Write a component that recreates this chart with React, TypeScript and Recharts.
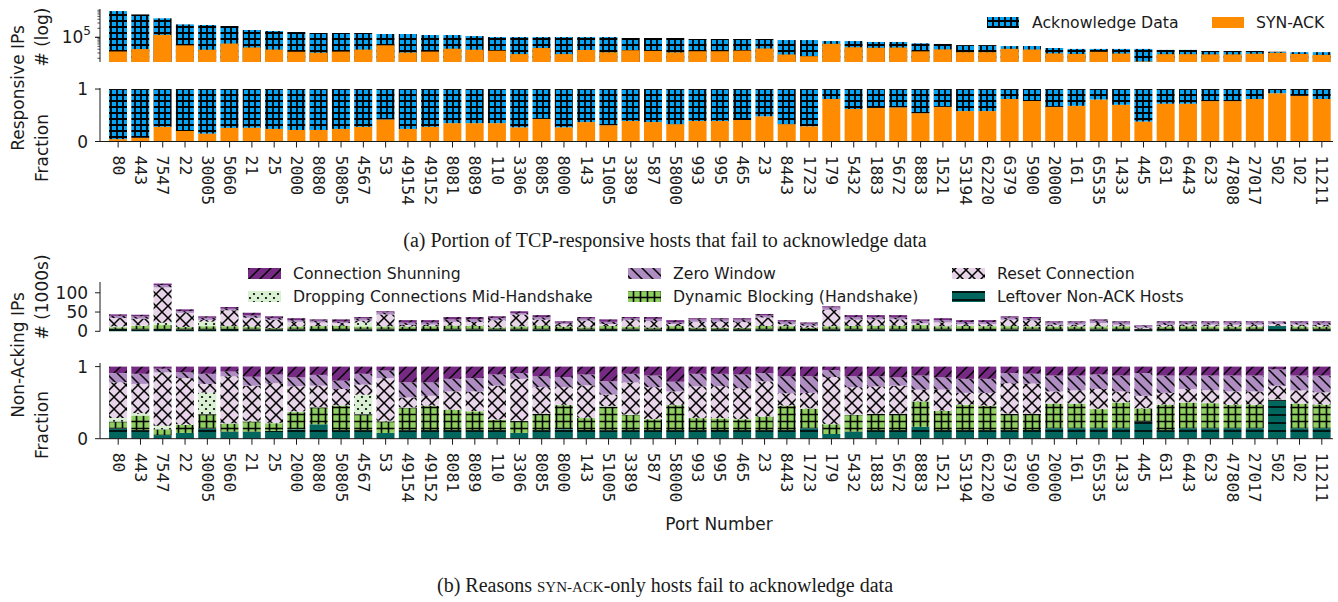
import { BarChart, Bar, XAxis, YAxis } from "recharts";

const ports = [
  "80", "443", "7547", "22", "30005", "5060", "21", "25", "2000", "8080",
  "50805", "4567", "53", "49154", "49152", "8081", "8089", "110", "3306", "8085",
  "8000", "143", "51005", "3389", "587", "58000", "993", "995", "465", "23",
  "8443", "1723", "179", "5432", "1883", "5672", "8883", "1521", "53194", "62220",
  "6379", "5900", "20000", "161", "65535", "1433", "445", "631", "6443", "623",
  "47808", "27017", "502", "102", "11211",
];

// (a) responsive hosts per port, and the SYN-ACK-only share
const responsiveTotal = [
  750000, 580000, 430000, 270000, 257000, 238000, 175000, 162000, 150000, 139000,
  139000, 139000, 129000, 129000, 119000, 119000, 110000, 102000, 102000, 102000,
  102000, 102000, 102000, 95000, 95000, 95000, 88000, 88000, 88000, 88000,
  81000, 81000, 75000, 75000, 70000, 70000, 63000, 60000, 55000, 55000,
  51000, 51000, 44000, 41000, 41000, 41000, 41000, 38000, 38000, 35000,
  35000, 35000, 33000, 32000, 32000,
];
const synAckFrac = [
  0.045, 0.07, 0.28, 0.2, 0.15, 0.26, 0.26, 0.24, 0.22, 0.22,
  0.24, 0.28, 0.42, 0.24, 0.28, 0.35, 0.35, 0.35, 0.27, 0.43,
  0.27, 0.37, 0.31, 0.39, 0.37, 0.33, 0.39, 0.39, 0.41, 0.48,
  0.33, 0.29, 0.81, 0.62, 0.64, 0.65, 0.54, 0.66, 0.58, 0.58,
  0.81, 0.77, 0.66, 0.68, 0.8, 0.7, 0.38, 0.72, 0.72, 0.77,
  0.77, 0.81, 0.92, 0.87, 0.81,
];

// (b) non-acking hosts (thousands) and reason shares
const nonAckTotal = [
  44, 43, 124, 57, 39, 63, 48, 39, 34, 31,
  31, 37, 52, 29, 29, 37, 37, 39, 52, 42,
  26, 37, 31, 37, 37, 29, 34, 34, 34, 45,
  29, 23, 65, 42, 42, 42, 31, 34, 29, 29,
  39, 37, 26, 26, 31, 26, 16, 26, 26, 26,
  26, 26, 26, 26, 26,
];
const leftover = [
  0.14, 0.12, 0.05, 0.08, 0.14, 0.1, 0.1, 0.11, 0.13, 0.2,
  0.12, 0.12, 0.08, 0.12, 0.12, 0.12, 0.12, 0.12, 0.08, 0.12,
  0.13, 0.12, 0.12, 0.12, 0.12, 0.12, 0.12, 0.12, 0.12, 0.12,
  0.12, 0.145, 0.065, 0.1, 0.12, 0.12, 0.165, 0.12, 0.12, 0.12,
  0.12, 0.12, 0.145, 0.145, 0.145, 0.145, 0.235, 0.12, 0.145, 0.145,
  0.145, 0.145, 0.525, 0.145, 0.145,
];
const dynamicBlocking = [
  0.1, 0.2, 0.08, 0.11, 0.2, 0.11, 0.14, 0.105, 0.24, 0.235,
  0.34, 0.22, 0.16, 0.31, 0.335, 0.28, 0.26, 0.14, 0.165, 0.225,
  0.335, 0.165, 0.33, 0.21, 0.15, 0.345, 0.165, 0.16, 0.15, 0.185,
  0.335, 0.27, 0.135, 0.23, 0.225, 0.225, 0.35, 0.265, 0.35, 0.335,
  0.225, 0.225, 0.34, 0.34, 0.265, 0.355, 0.185, 0.35, 0.355, 0.35,
  0.325, 0.325, 0.015, 0.34, 0.325,
];
const dropping = [
  0.05, 0.035, 0.05, 0.01, 0.3, 0.005, 0.01, 0.005, 0.01, 0.005,
  0.005, 0.27, 0.01, 0.005, 0.005, 0.005, 0.005, 0.005, 0.005, 0.005,
  0.005, 0.005, 0.005, 0.005, 0.005, 0.005, 0.005, 0.005, 0.005, 0.005,
  0.005, 0.005, 0.005, 0.005, 0.005, 0.005, 0.005, 0.005, 0.005, 0.005,
  0.005, 0.005, 0.005, 0.005, 0.005, 0.005, 0.005, 0.005, 0.005, 0.005,
  0.005, 0.005, 0.005, 0.005, 0.005,
];
const resetConn = [
  0.5, 0.405, 0.74, 0.64, 0.12, 0.655, 0.485, 0.55, 0.35, 0.295,
  0.225, 0.14, 0.59, 0.14, 0.135, 0.25, 0.27, 0.47, 0.58, 0.365,
  0.245, 0.445, 0.16, 0.445, 0.44, 0.185, 0.435, 0.44, 0.425, 0.485,
  0.17, 0.215, 0.65, 0.38, 0.375, 0.385, 0.16, 0.29, 0.16, 0.175,
  0.42, 0.415, 0.165, 0.18, 0.275, 0.15, 0.17, 0.16, 0.185, 0.175,
  0.18, 0.18, 0.19, 0.18, 0.165,
];
const zeroWindow = [
  0.13, 0.14, 0.05, 0.08, 0.14, 0.065, 0.125, 0.12, 0.125, 0.15,
  0.115, 0.15, 0.105, 0.21, 0.185, 0.175, 0.185, 0.155, 0.08, 0.15,
  0.14, 0.15, 0.185, 0.12, 0.16, 0.135, 0.175, 0.17, 0.19, 0.115,
  0.235, 0.23, 0.095, 0.15, 0.14, 0.115, 0.195, 0.17, 0.195, 0.195,
  0.14, 0.135, 0.22, 0.205, 0.2, 0.22, 0.315, 0.24, 0.185, 0.205,
  0.22, 0.22, 0.225, 0.205, 0.23,
];
const shunning = [
  0.09, 0.1, 0.03, 0.08, 0.1, 0.07, 0.14, 0.11, 0.15, 0.115,
  0.195, 0.1, 0.055, 0.22, 0.22, 0.17, 0.16, 0.11, 0.09, 0.135,
  0.145, 0.11, 0.205, 0.1, 0.125, 0.21, 0.1, 0.1, 0.11, 0.09,
  0.135, 0.135, 0.05, 0.135, 0.135, 0.15, 0.125, 0.15, 0.17, 0.17,
  0.09, 0.1, 0.125, 0.125, 0.11, 0.125, 0.09, 0.125, 0.125, 0.125,
  0.125, 0.125, 0.04, 0.125, 0.125,
];

const logTicks = [
  20000, 30000, 40000, 50000, 60000, 70000, 80000, 90000, 100000,
  200000, 300000, 400000, 500000, 600000, 700000, 800000,
];

const reasons = [
  { key: "left", label: "Leftover Non-ACK Hosts", fill: "url(#patLeft)", shares: leftover },
  { key: "dyn", label: "Dynamic Blocking (Handshake)", fill: "url(#patDyn)", shares: dynamicBlocking },
  { key: "drop", label: "Dropping Connections Mid-Handshake", fill: "url(#patDrop)", shares: dropping },
  { key: "reset", label: "Reset Connection", fill: "url(#patReset)", shares: resetConn },
  { key: "zero", label: "Zero Window", fill: "url(#patZero)", shares: zeroWindow },
  { key: "shun", label: "Connection Shunning", fill: "url(#patShun)", shares: shunning },
];

const rows = ports.map((port, i) => {
  const sum = reasons.reduce((s, r) => s + r.shares[i], 0);
  const row: any = {
    port,
    total: responsiveTotal[i],
    synAck: responsiveTotal[i] * synAckFrac[i],
    synFrac: synAckFrac[i],
    ackFrac: 1 - synAckFrac[i],
  };
  reasons.forEach((r) => {
    row["c_" + r.key] = (nonAckTotal[i] * r.shares[i]) / sum;
    row["f_" + r.key] = r.shares[i] / sum;
  });
  return row;
});

const W = 1338;
const INK = "#1a1a1a";
const ORANGE = "#ff8c00";
const yTick = { fontSize: 17, fill: INK, fontFamily: "DejaVu Sans" };

const PortTick = (props: any) => {
  const { x, y, payload } = props;
  return (
    <text
      transform={`translate(${x},${y}) rotate(90)`}
      textAnchor="start"
      dominantBaseline="central"
      fontFamily="DejaVu Sans Mono"
      fontSize={16.5}
      fill={INK}
    >
      {payload.value}
    </text>
  );
};

const LogTick = (props: any) => {
  const { x, y, payload } = props;
  const major = payload.value === 100000;
  return (
    <g>
      <line x1={x - (major ? 5 : 2.5)} x2={x} y1={y} y2={y} stroke={INK} strokeWidth={major ? 1.2 : 0.8} />
      {major && (
        <text x={x - 9} y={y + 6} textAnchor="end" fontFamily="DejaVu Sans" fontSize={17} fill={INK}>
          10
          <tspan dy={-8} fontSize={12}>5</tspan>
        </text>
      )}
    </g>
  );
};

const Patterns = () => (
  <defs>
    <pattern id="patAck" width="6" height="6" patternUnits="userSpaceOnUse">
      <rect width="6" height="6" fill="#06a4f2" />
      <path d="M0 3H6M3 0V6" stroke="#000" strokeWidth="1.8" />
    </pattern>
    <pattern id="patShun" width="11" height="11" patternUnits="userSpaceOnUse">
      <rect width="11" height="11" fill="#762a83" />
      <path d="M-1 12L12 -1M-3 3L3 -3M8 14L14 8" stroke="#000" strokeWidth="1.5" />
    </pattern>
    <pattern id="patZero" width="11" height="11" patternUnits="userSpaceOnUse">
      <rect width="11" height="11" fill="#af8dc3" />
      <path d="M-1 -1L12 12M-3 8L3 14M8 -3L14 3" stroke="#000" strokeWidth="1.5" />
    </pattern>
    <pattern id="patReset" width="12" height="12" patternUnits="userSpaceOnUse">
      <rect width="12" height="12" fill="#e7d4e8" />
      <path d="M-1 -1L13 13M13 -1L-1 13" stroke="#000" strokeWidth="1.5" />
    </pattern>
    <pattern id="patDrop" width="8" height="8" patternUnits="userSpaceOnUse">
      <rect width="8" height="8" fill="#d9f0d3" />
      <circle cx="2" cy="2" r="1.1" fill="#000" />
      <circle cx="6" cy="6" r="1.1" fill="#000" />
    </pattern>
    <pattern id="patDyn" width="7" height="7" patternUnits="userSpaceOnUse">
      <rect width="7" height="7" fill="#8dce5e" />
      <path d="M0 3.5H7M3.5 0V7" stroke="#000" strokeWidth="1.6" />
    </pattern>
    <pattern id="patLeft" width="8" height="8" patternUnits="userSpaceOnUse">
      <rect width="8" height="8" fill="#01665e" />
      <path d="M0 4H8" stroke="#000" strokeWidth="1.6" />
    </pattern>
  </defs>
);

const legendB = [
  { label: "Connection Shunning", fill: "url(#patShun)", col: 0, row: 0 },
  { label: "Dropping Connections Mid-Handshake", fill: "url(#patDrop)", col: 0, row: 1 },
  { label: "Zero Window", fill: "url(#patZero)", col: 1, row: 0 },
  { label: "Dynamic Blocking (Handshake)", fill: "url(#patDyn)", col: 1, row: 1 },
  { label: "Reset Connection", fill: "url(#patReset)", col: 2, row: 0 },
  { label: "Leftover Non-ACK Hosts", fill: "url(#patLeft)", col: 2, row: 1 },
];
const legendColX = [248, 628, 952];
const legendRowY = [268, 291];

const xPad = { left: 7, right: 0 };

export default function App() {
  return (
    <div style={{ position: "relative", width: W, height: 602, fontFamily: "DejaVu Sans", background: "#fff" }}>
      <style>{"body{margin:0}"}</style>
      <svg width={0} height={0} style={{ position: "absolute" }}>
        <Patterns />
      </svg>

      {/* (a) top: log counts */}
      <div style={{ position: "absolute", left: 0, top: 0 }}>
        <BarChart width={W} height={72} data={rows} margin={{ top: 9, right: 5, bottom: 10, left: 0 }} barSize={18} barGap={-18}>
          <XAxis dataKey="port" hide padding={xPad} />
          <YAxis
            scale="log"
            domain={[15000, 880000]}
            allowDataOverflow
            ticks={logTicks}
            interval={0}
            width={100}
            axisLine={{ stroke: INK }}
            tickLine={false}
            tickSize={0}
            tickMargin={0}
            tick={<LogTick />}
          />
          <Bar dataKey="total" fill="url(#patAck)" isAnimationActive={false} />
          <Bar dataKey="synAck" fill={ORANGE} isAnimationActive={false} />
        </BarChart>
      </div>

      {/* (a) bottom: fraction */}
      <div style={{ position: "absolute", left: 0, top: 80 }}>
        <BarChart width={W} height={141.5} data={rows} margin={{ top: 8, right: 5, bottom: 0, left: 0 }} barSize={18}>
          <XAxis
            dataKey="port"
            padding={xPad}
            interval={0}
            height={80}
            axisLine={{ stroke: INK }}
            tickLine={{ stroke: INK }}
            tickSize={6}
            tickMargin={8}
            tick={<PortTick />}
          />
          <YAxis domain={[0, 1.02]} ticks={[0, 1]} interval={0} width={100} axisLine={{ stroke: INK }} tickLine={{ stroke: INK }} tickSize={5} tickMargin={7} tick={yTick} />
          <Bar dataKey="synFrac" stackId="a" fill={ORANGE} isAnimationActive={false} />
          <Bar dataKey="ackFrac" stackId="a" fill="url(#patAck)" isAnimationActive={false} />
        </BarChart>
      </div>

      {/* (b) top: counts */}
      <div style={{ position: "absolute", left: 0, top: 270 }}>
        <BarChart width={W} height={73.3} data={rows} margin={{ top: 12, right: 5, bottom: 12, left: 0 }} barSize={18}>
          <XAxis dataKey="port" hide padding={xPad} />
          <YAxis domain={[0, 128]} ticks={[0, 50, 100]} interval={0} width={100} axisLine={{ stroke: INK }} tickLine={{ stroke: INK }} tickSize={5} tickMargin={7} tick={yTick} />
          {reasons.map((r) => (
            <Bar key={r.key} dataKey={"c_" + r.key} stackId="b" fill={r.fill} isAnimationActive={false} />
          ))}
        </BarChart>
      </div>

      {/* (b) bottom: fraction */}
      <div style={{ position: "absolute", left: 0, top: 355 }}>
        <BarChart width={W} height={163.7} data={rows} margin={{ top: 8, right: 5, bottom: 0, left: 0 }} barSize={18}>
          <XAxis
            dataKey="port"
            padding={xPad}
            interval={0}
            height={80}
            axisLine={{ stroke: INK }}
            tickLine={{ stroke: INK }}
            tickSize={6}
            tickMargin={8}
            tick={<PortTick />}
          />
          <YAxis domain={[0, 1.05]} ticks={[0, 1]} interval={0} width={100} axisLine={{ stroke: INK }} tickLine={{ stroke: INK }} tickSize={5} tickMargin={7} tick={yTick} />
          {reasons.map((r) => (
            <Bar key={r.key} dataKey={"f_" + r.key} stackId="c" fill={r.fill} isAnimationActive={false} />
          ))}
        </BarChart>
      </div>

      {/* labels, legends, captions */}
      <svg width={W} height={602} style={{ position: "absolute", left: 0, top: 0, pointerEvents: "none" }}>
        <g fontFamily="DejaVu Sans" fontSize={17} fill={INK} textAnchor="middle">
          <text transform="translate(24,88) rotate(-90)">Responsive IPs</text>
          <text transform="translate(48,37) rotate(-90)"># (log)</text>
          <text transform="translate(48,148) rotate(-90)">Fraction</text>
          <text transform="translate(24,355) rotate(-90)">Non-Acking IPs</text>
          <text transform="translate(48,297) rotate(-90)"># (1000s)</text>
          <text transform="translate(48,425) rotate(-90)">Fraction</text>
          <text x={719} y={530}>Port Number</text>
        </g>

        <g fontFamily="DejaVu Sans" fontSize={15.7} fill={INK}>
          <rect x={987} y={17} width={32} height={11} fill="url(#patAck)" />
          <text x={1032} y={28}>Acknowledge Data</text>
          <rect x={1212} y={17} width={32} height={11} fill={ORANGE} />
          <text x={1256} y={28}>SYN-ACK</text>
          {legendB.map((l) => (
            <g key={l.label}>
              <rect x={legendColX[l.col]} y={legendRowY[l.row]} width={33} height={11} fill={l.fill} />
              <text x={legendColX[l.col] + 45} y={legendRowY[l.row] + 11}>{l.label}</text>
            </g>
          ))}
        </g>

        <g fontFamily="Liberation Serif" fontSize={20} fill={INK} textAnchor="middle">
          <text x={665} y={247}>(a) Portion of TCP-responsive hosts that fail to acknowledge data</text>
          <text x={665} y={592}>
            (b) Reasons <tspan fontSize={15}>SYN-ACK</tspan>-only hosts fail to acknowledge data
          </text>
        </g>
      </svg>
    </div>
  );
}
